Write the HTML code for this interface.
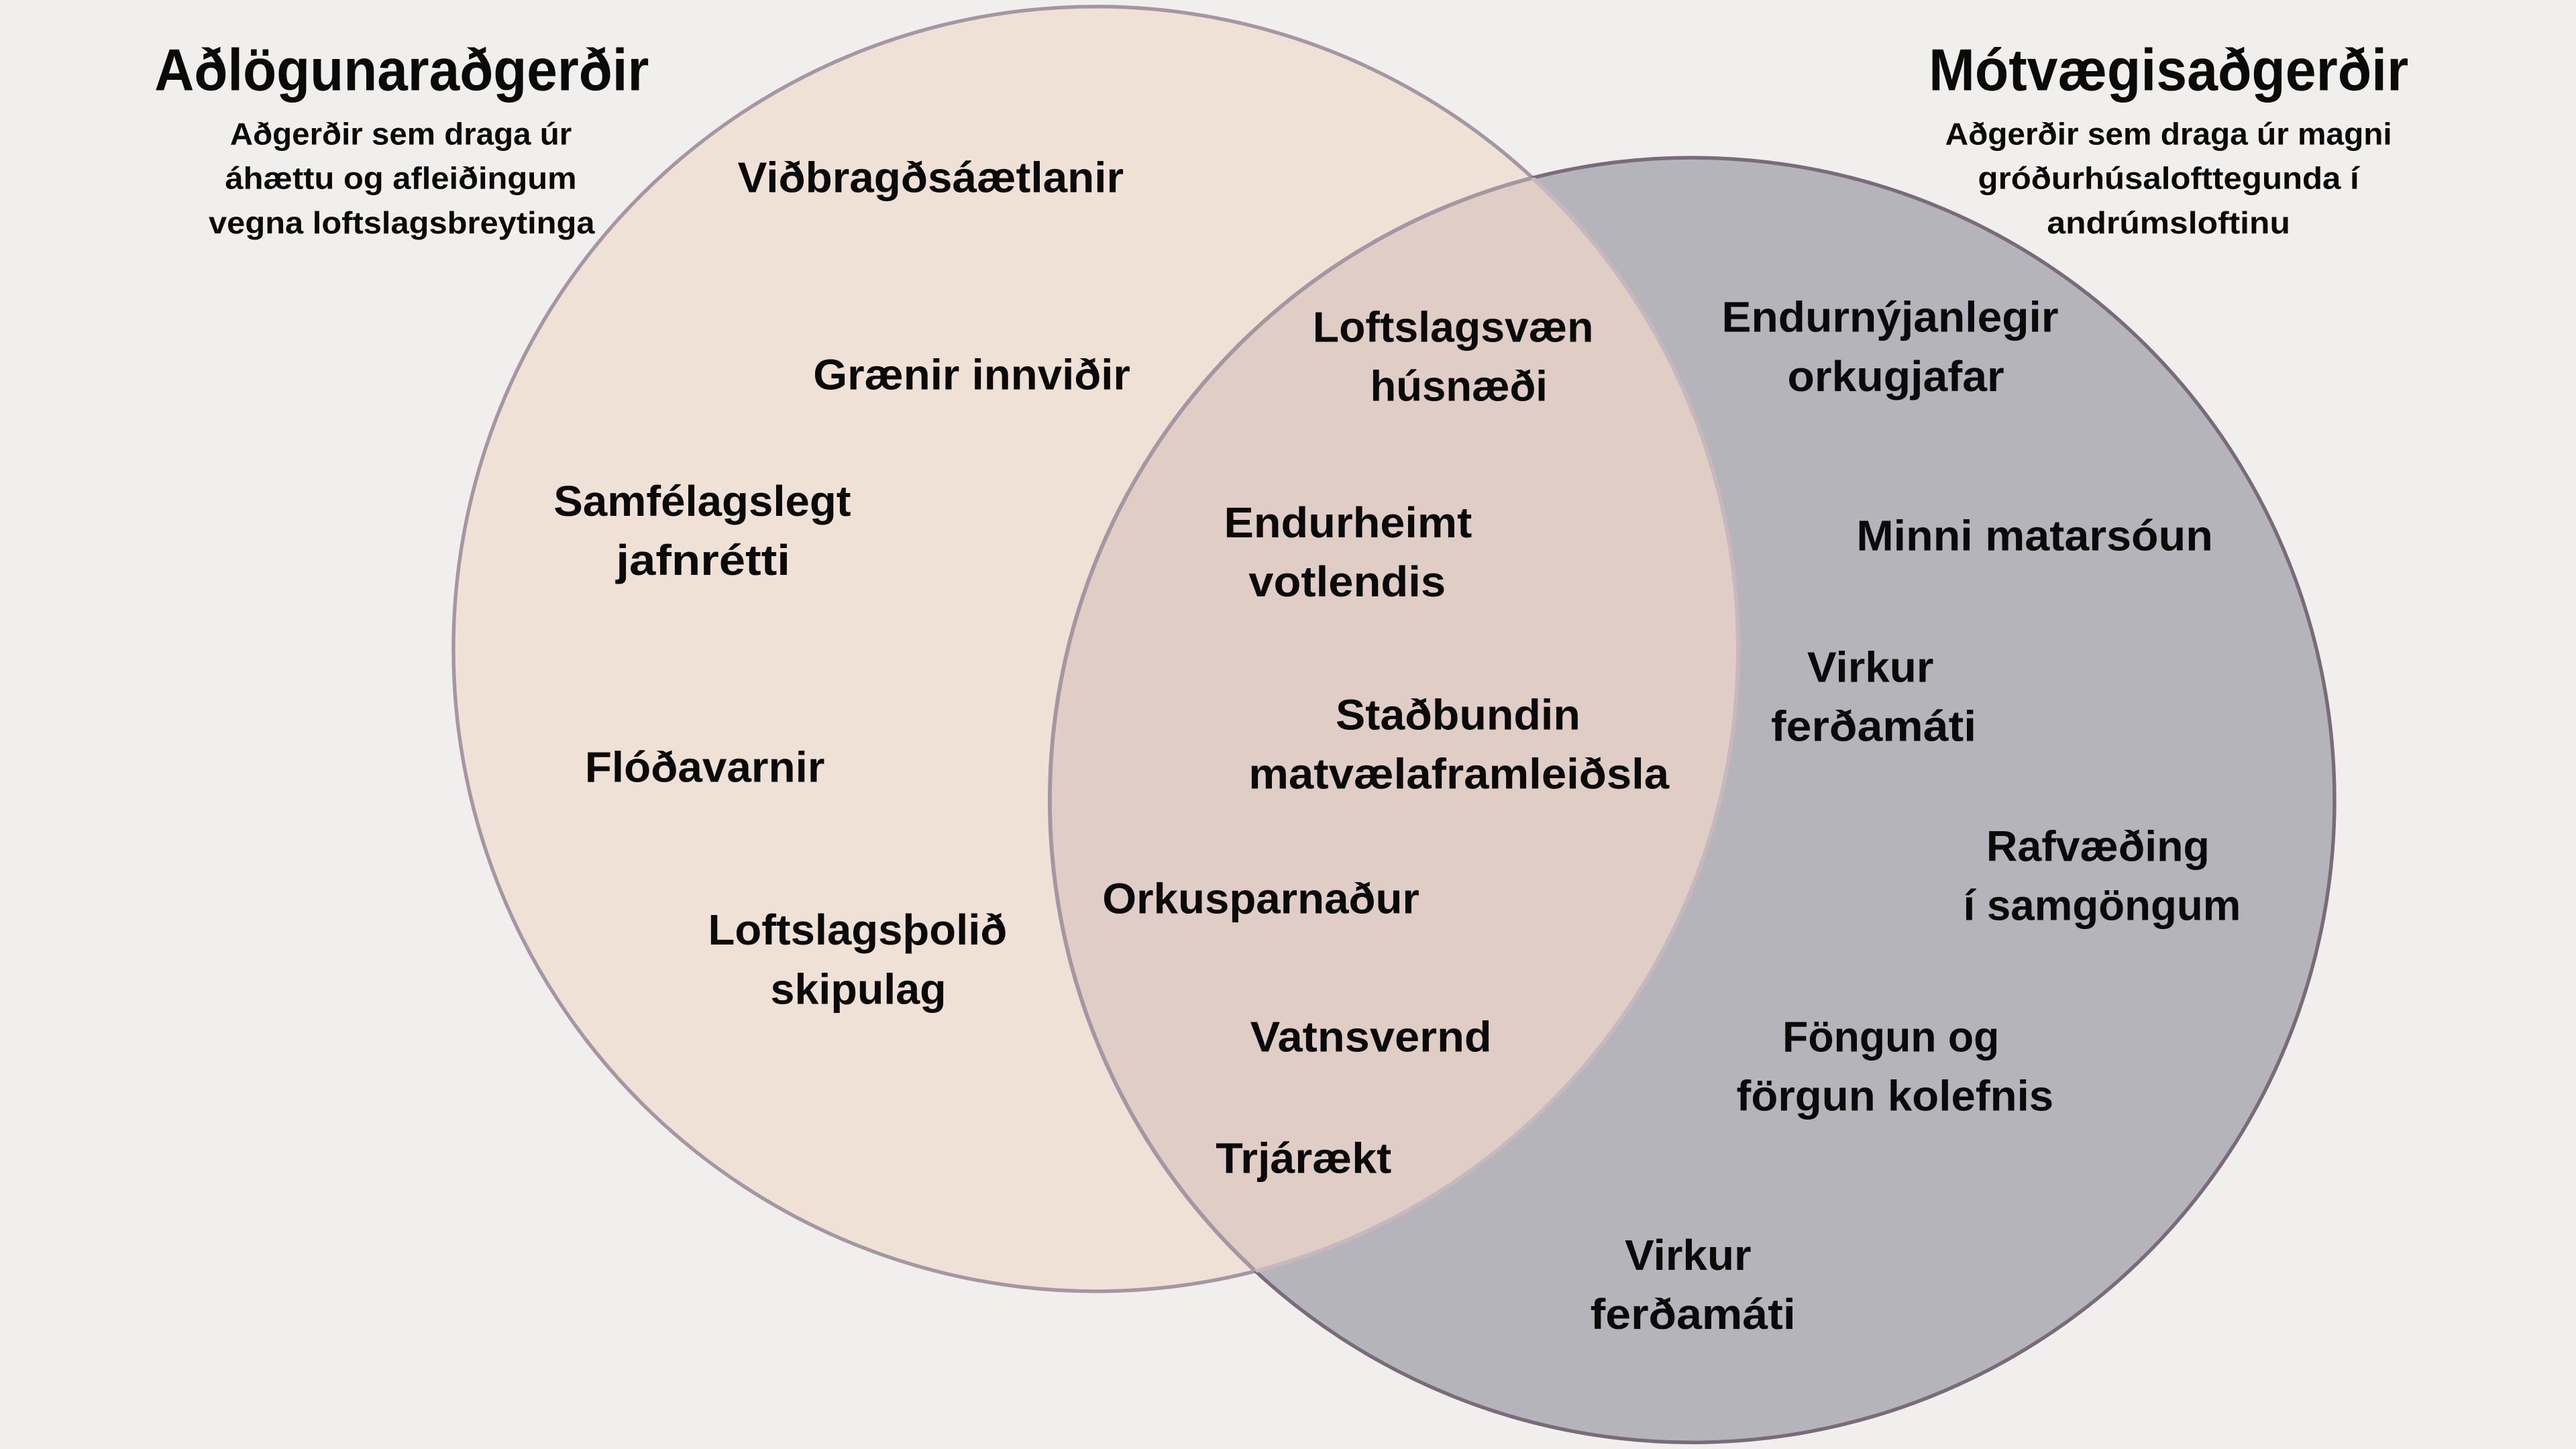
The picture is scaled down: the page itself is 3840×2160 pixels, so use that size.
<!DOCTYPE html>
<html><head><meta charset="utf-8"><style>
html,body{margin:0;padding:0;background:#f0efed;}
svg{display:block;}
text{font-family:"Liberation Sans",sans-serif;font-weight:bold;fill:#0a0a0a;}
.t{font-size:36px;}
.s{font-size:19px;}
.l{font-size:26px;}
</style></head><body>
<svg width="3840" height="2160" viewBox="0 0 1568 882" xmlns="http://www.w3.org/2000/svg">
<defs>
<clipPath id="cl"><circle cx="667" cy="395" r="391"/></clipPath>
<clipPath id="cr"><circle cx="1030" cy="487" r="391"/></clipPath>
</defs>
<rect width="1568" height="882" fill="#f0efed"/>
<circle cx="667" cy="395" r="391" fill="#f0e1d7"/>
<circle cx="1030" cy="487" r="391" fill="#b6b4bb"/>
<circle cx="1030" cy="487" r="391" fill="#dfcdc6" clip-path="url(#cl)"/>
<circle cx="667" cy="395" r="391" fill="none" stroke="#a596a3" stroke-width="2.2"/>
<circle cx="1030" cy="487" r="391" fill="none" stroke="#7a6b7a" stroke-width="2.2"/>
<circle cx="1030" cy="487" r="391" fill="none" stroke="#a596a3" stroke-width="2.4" clip-path="url(#cl)"/>
<circle cx="667" cy="395" r="391" fill="none" stroke="#c6b8bd" stroke-width="2.4" clip-path="url(#cr)"/>

<g>
<text class="t" x="94" y="55" textLength="301" lengthAdjust="spacingAndGlyphs">Aðlögunaraðgerðir</text>
<text class="s" x="140" y="88" textLength="208" lengthAdjust="spacingAndGlyphs">Aðgerðir sem draga úr</text>
<text class="s" x="137" y="115" textLength="214" lengthAdjust="spacingAndGlyphs">áhættu og afleiðingum</text>
<text class="s" x="127" y="142" textLength="235" lengthAdjust="spacingAndGlyphs">vegna loftslagsbreytinga</text>
<text class="t" x="1174" y="55" textLength="292" lengthAdjust="spacingAndGlyphs">Mótvægisaðgerðir</text>
<text class="s" x="1184" y="88" textLength="272" lengthAdjust="spacingAndGlyphs">Aðgerðir sem draga úr magni</text>
<text class="s" x="1204" y="115" textLength="232" lengthAdjust="spacingAndGlyphs">gróðurhúsalofttegunda í</text>
<text class="s" x="1246" y="142" textLength="148" lengthAdjust="spacingAndGlyphs">andrúmsloftinu</text>

<text class="l" x="449" y="117" textLength="235" lengthAdjust="spacingAndGlyphs">Viðbragðsáætlanir</text>
<text class="l" x="495" y="237" textLength="193" lengthAdjust="spacingAndGlyphs">Grænir innviðir</text>
<text class="l" x="337" y="314" textLength="181" lengthAdjust="spacingAndGlyphs">Samfélagslegt</text>
<text class="l" x="375" y="350" textLength="106" lengthAdjust="spacingAndGlyphs">jafnrétti</text>
<text class="l" x="356" y="476" textLength="146" lengthAdjust="spacingAndGlyphs">Flóðavarnir</text>
<text class="l" x="431" y="575" textLength="182" lengthAdjust="spacingAndGlyphs">Loftslagsþolið</text>
<text class="l" x="469" y="611" textLength="107" lengthAdjust="spacingAndGlyphs">skipulag</text>

<text class="l" x="799" y="208" textLength="171" lengthAdjust="spacingAndGlyphs">Loftslagsvæn</text>
<text class="l" x="834" y="244" textLength="108" lengthAdjust="spacingAndGlyphs">húsnæði</text>
<text class="l" x="745" y="327" textLength="151" lengthAdjust="spacingAndGlyphs">Endurheimt</text>
<text class="l" x="760" y="363" textLength="120" lengthAdjust="spacingAndGlyphs">votlendis</text>
<text class="l" x="813" y="444" textLength="149" lengthAdjust="spacingAndGlyphs">Staðbundin</text>
<text class="l" x="760" y="480" textLength="256" lengthAdjust="spacingAndGlyphs">matvælaframleiðsla</text>
<text class="l" x="671" y="556" textLength="193" lengthAdjust="spacingAndGlyphs">Orkusparnaður</text>
<text class="l" x="761" y="640" textLength="147" lengthAdjust="spacingAndGlyphs">Vatnsvernd</text>
<text class="l" x="740" y="714" textLength="107" lengthAdjust="spacingAndGlyphs">Trjárækt</text>

<text class="l" x="1048" y="202" textLength="205" lengthAdjust="spacingAndGlyphs">Endurnýjanlegir</text>
<text class="l" x="1088" y="238" textLength="132" lengthAdjust="spacingAndGlyphs">orkugjafar</text>
<text class="l" x="1130" y="335" textLength="217" lengthAdjust="spacingAndGlyphs">Minni matarsóun</text>
<text class="l" x="1100" y="415" textLength="77" lengthAdjust="spacingAndGlyphs">Virkur</text>
<text class="l" x="1078" y="451" textLength="125" lengthAdjust="spacingAndGlyphs">ferðamáti</text>
<text class="l" x="1209" y="524" textLength="136" lengthAdjust="spacingAndGlyphs">Rafvæðing</text>
<text class="l" x="1195" y="560" textLength="169" lengthAdjust="spacingAndGlyphs">í samgöngum</text>
<text class="l" x="1085" y="640" textLength="132" lengthAdjust="spacingAndGlyphs">Föngun og</text>
<text class="l" x="1057" y="676" textLength="193" lengthAdjust="spacingAndGlyphs">förgun kolefnis</text>
<text class="l" x="989" y="773" textLength="77" lengthAdjust="spacingAndGlyphs">Virkur</text>
<text class="l" x="968" y="809" textLength="125" lengthAdjust="spacingAndGlyphs">ferðamáti</text>
</g>
</svg>
</body></html>
